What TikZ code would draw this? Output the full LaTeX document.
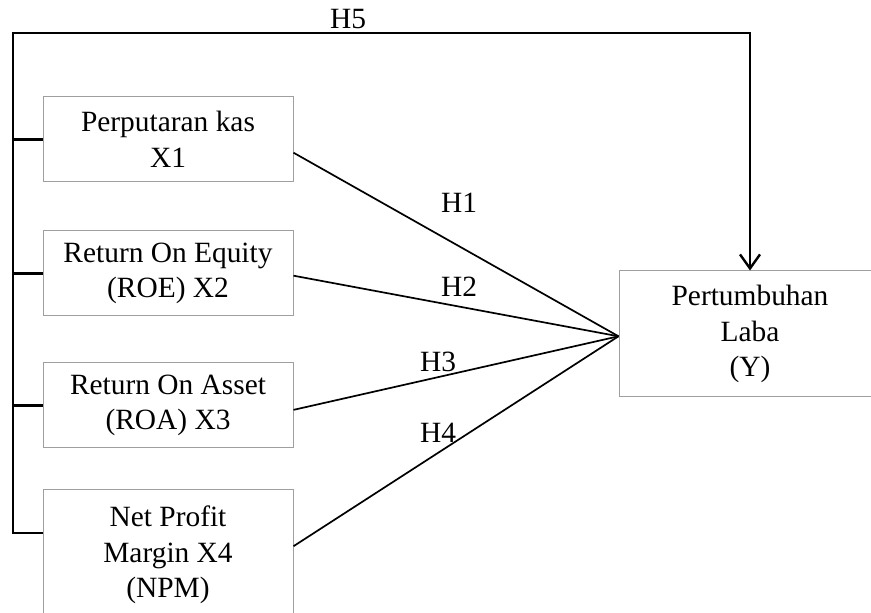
\documentclass[tikz,border=0pt]{standalone}
\usepackage{fontspec}
\setmainfont{Liberation Serif}
\usepackage{tikz}
\usetikzlibrary{arrows.meta,positioning}

\begin{document}
\begin{tikzpicture}[
    x=0.5pt, y=-0.5pt,
    var/.style={rectangle, draw=gray!75, line width=0.5pt, minimum width=125pt, minimum height=42.5pt, align=center, inner sep=0pt, font=\fontsize{14.7}{17.7}\selectfont},
    hyp/.style={inner sep=0pt, font=\fontsize{14.7}{17.7}\selectfont},
    link/.style={line width=0.85pt},
    frame/.style={line width=1.2pt},
    arrow/.style={frame, -{Straight Barb[length=7pt,width=10pt]}}
]
    \clip (0,0) rectangle (871,613);

    % variables
    \node[var] (X1) at (168,139.5) {Perputaran kas\\X1};
    \node[var] (X2) at (168,273.5) {Return On Equity\\(ROE) X2};
    \node[var] (X3) at (168,405.5) {Return On Asset\\(ROA) X3};
    \node[var, minimum height=65pt] (X4) at (168,555) {Net Profit\\Margin X4\\(NPM)};
    \node[var, minimum width=131pt, minimum height=63pt] (Y) at (750,334) {Pertumbuhan\\Laba\\(Y)};

    % partial effects
    \draw[link] (X1.-6) -- (Y.181);
    \draw[link] (X2.-1) -- (Y.181);
    \draw[link] (X3.-2) -- (Y.181);
    \draw[link] (X4.4) -- (Y.181);

    \node[hyp] (H1) at (459,203) {H1};
    \node[hyp] (H2) at (459,287) {H2};
    \node[hyp] (H3) at (438,362) {H3};
    \node[hyp] (H4) at (438,433) {H4};

    % simultaneous effect
    \coordinate (corner) at (13,33);
    \draw[arrow] (X4.170) -| (corner) -| (Y.north);
    \foreach \v in {X1,X2,X3}
        \draw[frame] (\v.west) -- (\v.west -| corner);
    \node[hyp] (H5) at (348,19) {H5};
\end{tikzpicture}
\end{document}
